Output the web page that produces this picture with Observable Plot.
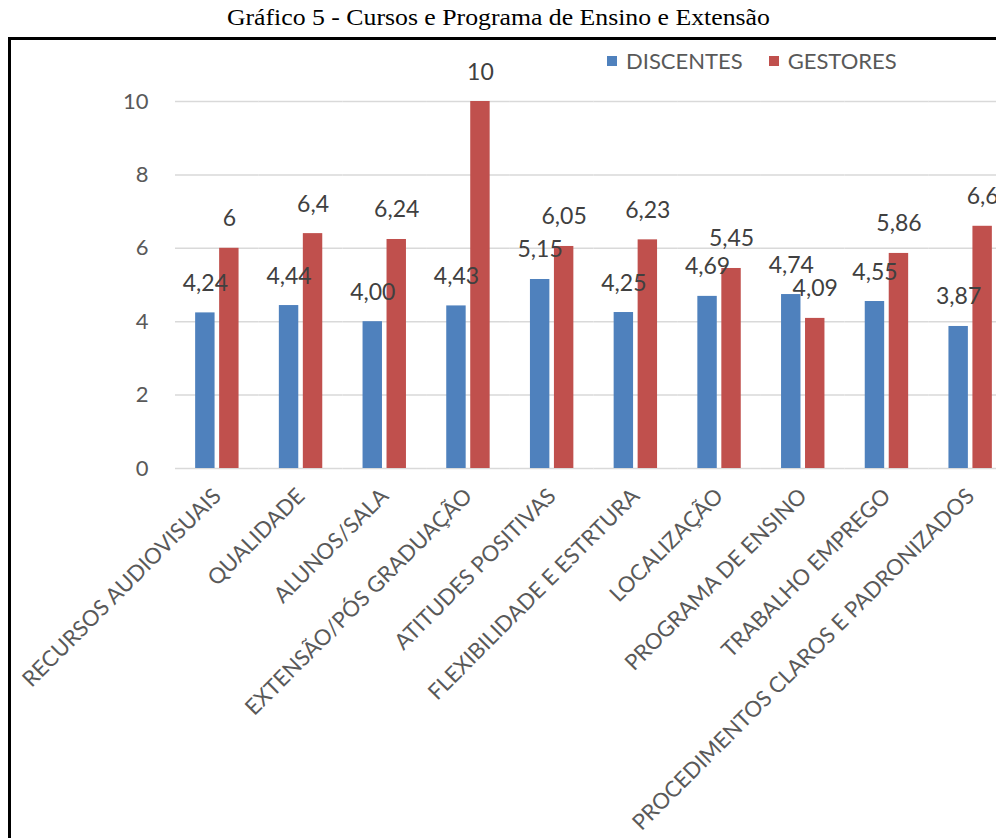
<!DOCTYPE html>
<html><head><meta charset="utf-8">
<script src="https://cdn.jsdelivr.net/npm/d3@7"></script>
<script src="https://cdn.jsdelivr.net/npm/@observablehq/plot@0.6"></script>
<style>
html,body{margin:0;padding:0;overflow:hidden;background:#fff;width:996px;height:838px;position:relative;}
#title{position:absolute;left:0;top:5px;width:996px;text-align:center;font-family:"Liberation Serif","Times New Roman",serif;font-size:23px;color:#000;white-space:nowrap;}
#title span{display:inline-block;transform:scaleX(1.12);transform-origin:center;}
#box{position:absolute;left:8px;top:37px;width:1100px;height:900px;border-left:3px solid #000;border-top:3px solid #000;}
#chart{position:absolute;left:0;top:0;}
#legend{position:absolute;left:596px;top:7px;font-family:Lato,sans-serif;font-size:22px;color:#595959;white-space:nowrap;}
#legend span.sw{display:inline-block;width:10px;height:10px;margin-right:9px;vertical-align:middle;position:relative;top:-2px;}
#legend span.it{margin-right:26px;}
</style>
</head><body>
<div id="title"><span>Gráfico 5 - Cursos e Programa de Ensino e Extensão</span></div>
<div id="box"><div id="chart"></div><div id="legend"></div></div>
<script>
const categories = ["RECURSOS AUDIOVISUAIS","QUALIDADE","ALUNOS/SALA","EXTENSÃO/PÓS GRADUAÇÃO","ATITUDES POSITIVAS","FLEXIBILIDADE E ESTRTURA","LOCALIZAÇÃO","PROGRAMA DE ENSINO","TRABALHO EMPREGO","PROCEDIMENTOS CLAROS E PADRONIZADOS"];
const discentes = [4.24,4.44,4.00,4.43,5.15,4.25,4.69,4.74,4.55,3.87];
const gestores = [6,6.4,6.24,10,6.05,6.23,5.45,4.09,5.86,6.6];
const discentesLabels = ["4,24","4,44","4,00","4,43","5,15","4,25","4,69","4,74","4,55","3,87"];
const gestoresLabels = ["6","6,4","6,24","10","6,05","6,23","5,45","4,09","5,86","6,6"];
const series = ["DISCENTES","GESTORES"];
const colors = ["#4F81BD","#C0504D"];
const yTicks = [0,2,4,6,8,10];

const data = categories.flatMap((c,i)=>[
  {cat:c, serie:series[0], value:discentes[i], label:discentesLabels[i]},
  {cat:c, serie:series[1], value:gestores[i], label:gestoresLabels[i]}
]);

const chart = Plot.plot({
  width:1019, height:798,
  marginTop:61, marginBottom:370, marginLeft:164, marginRight:18,
  style:{fontFamily:"Lato, sans-serif", fontSize:"22px", background:"transparent", color:"#595959"},
  fx:{domain:categories, padding:0, round:false, label:null, tickRotate:-45, tickSize:0, tickPadding:24},
  x:{domain:series, paddingInner:0.19, paddingOuter:0.84, round:false, axis:null},
  y:{domain:[0,10], ticks:yTicks, tickSize:0, tickPadding:27, label:null},
  color:{domain:series, range:colors},
  marks:[
    Plot.gridY(yTicks,{stroke:"#d9d9d9", strokeOpacity:1, strokeWidth:1.5}),
    Plot.barY(data,{fx:"cat", x:"serie", y:"value", fill:"serie"}),
    Plot.text(data,{fx:"cat", x:"serie", y:"value", text:"label", lineAnchor:"bottom", dy:-22, fill:"#404040", fontSize:23})
  ]
});
document.getElementById("chart").appendChild(chart);

const legend = document.getElementById("legend");
series.forEach((s,i)=>{
  const it = document.createElement("span");
  it.className="it";
  it.innerHTML = `<span class="sw" style="background:${colors[i]}"></span>${s}`;
  legend.appendChild(it);
});
</script>
</body></html>
